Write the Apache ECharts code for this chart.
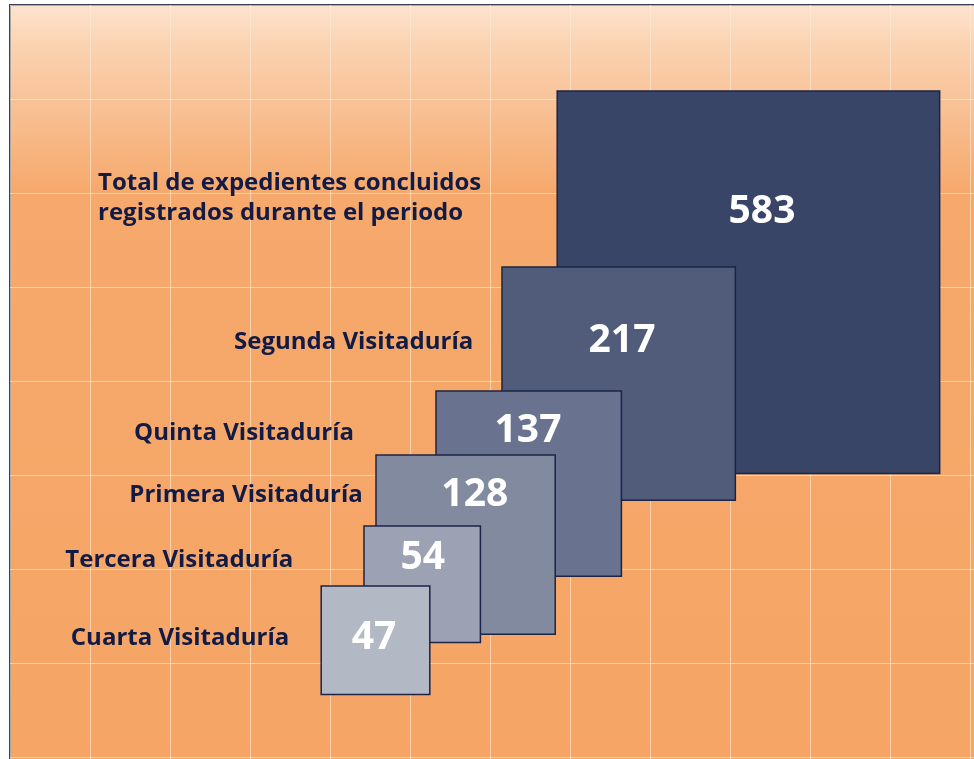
<!DOCTYPE html>
<html>
<head>
<meta charset="utf-8">
<script src="https://cdn.jsdelivr.net/npm/echarts@6/dist/echarts.min.js"></script>
<style>
  html, body { margin: 0; padding: 0; background: #fff; }
  #chart { width: 974px; height: 759px; }
</style>
</head>
<body>
<div id="chart"></div>
<script>
  // datos
  var categorias = [
    'Total de expedientes concluidos\nregistrados durante el periodo',
    'Segunda Visitaduría',
    'Quinta Visitaduría',
    'Primera Visitaduría',
    'Tercera Visitaduría',
    'Cuarta Visitaduría'
  ];
  var valores = [583, 217, 137, 128, 54, 47];

  // colores de los cuadros (del mas grande al mas chico)
  var colores = ['#384566', '#515c7b', '#69728e', '#828a9f', '#9ca1b3', '#b3b8c5'];

  // acomodo de los cuadros en celdas de la cuadricula
  var cuadroX = [6.84, 6.15, 5.325, 4.575, 4.425, 3.89];
  var cuadroY = [0.915, 2.787, 4.106, 4.787, 5.543, 6.181];
  var numX = [9.4, 7.65, 6.475, 5.81, 5.16, 4.55];
  var numY = [2.2, 3.57, 4.53, 5.21, 5.88, 6.73];
  var etiquetaX = [1.1, 5.79, 4.3, 4.41, 3.54, 3.49];
  var etiquetaY = [2.05, 3.585, 4.553, 5.213, 5.904, 6.734];
  var lado = 0.198; // celdas por raiz del valor (area proporcional)

  var datos = valores.map(function (v, i) {
    return [cuadroX[i], cuadroY[i], v, numX[i], numY[i], etiquetaX[i], etiquetaY[i]];
  });

  var myChart = echarts.init(document.getElementById('chart'));
  myChart.setOption({
    backgroundColor: '#ffffff',
    animation: false,
    grid: {
      show: true,
      outerBoundsMode: 'none',
      containLabel: false,
      left: 10, top: 5, width: 1040, height: 846,
      borderColor: '#3c3f58',
      borderWidth: 2,
      backgroundColor: new echarts.graphic.LinearGradient(0, 0, 0, 1, [
        {offset: 0, color: '#fde4d0'},
        {offset: 0.05, color: '#fbd2b0'},
        {offset: 0.12, color: '#f8c196'},
        {offset: 0.22, color: '#f6a96c'},
        {offset: 1, color: '#f5a464'}
      ])
    },
    xAxis: {
      type: 'value', min: 0, max: 13, interval: 1,
      axisLine: {show: false}, axisTick: {show: false}, axisLabel: {show: false},
      splitLine: {lineStyle: {color: 'rgba(255,236,215,0.6)', width: 1}}
    },
    yAxis: {
      type: 'value', min: 0, max: 9, interval: 1, inverse: true,
      axisLine: {show: false}, axisTick: {show: false}, axisLabel: {show: false},
      splitLine: {lineStyle: {color: 'rgba(255,236,215,0.6)', width: 1}}
    },
    series: [{
      type: 'custom',
      data: datos,
      renderItem: function (params, api) {
        var i = params.dataIndex;
        var esq = api.coord([api.value(0), api.value(1)]);
        var s = api.size([lado * Math.sqrt(api.value(2)), 0])[0];
        var pn = api.coord([api.value(3), api.value(4)]);
        var pe = api.coord([api.value(5), api.value(6)]);
        return {
          type: 'group',
          children: [
            {
              type: 'rect',
              shape: {x: esq[0], y: esq[1], width: s, height: s},
              style: {fill: colores[i], stroke: '#1b2447', lineWidth: 1.5}
            },
            {
              type: 'text',
              style: {
                text: String(api.value(2)),
                x: pn[0], y: pn[1],
                fill: '#ffffff',
                fontFamily: 'Open Sans',
                fontWeight: 'bold',
                fontSize: 39,
                align: 'center',
                verticalAlign: 'middle'
              }
            },
            {
              type: 'text',
              style: {
                text: categorias[i],
                x: pe[0], y: pe[1],
                fill: '#111b45',
                fontFamily: 'Open Sans',
                fontWeight: 'bold',
                fontSize: 24,
                lineHeight: 30,
                align: i === 0 ? 'left' : 'right',
                verticalAlign: 'middle'
              }
            }
          ]
        };
      }
    }]
  });
</script>
</body>
</html>
